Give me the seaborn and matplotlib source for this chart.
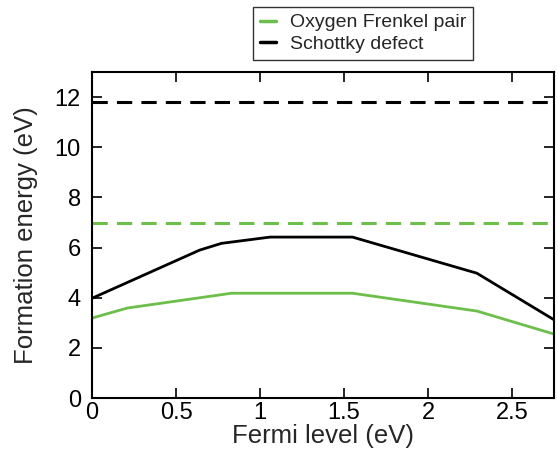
import matplotlib
matplotlib.use("Agg")
import matplotlib.pyplot as plt
import seaborn as sns
import pandas as pd

fermi_frenkel = [0.0, 0.21, 0.83, 1.55, 2.29, 2.75]
energy_frenkel = [3.19, 3.59, 4.18, 4.18, 3.47, 2.55]
fermi_schottky = [0.0, 0.64, 0.77, 1.06, 1.55, 2.29, 2.75]
energy_schottky = [3.98, 5.9, 6.17, 6.42, 6.42, 4.98, 3.12]
frenkel_ref = 6.98
schottky_ref = 11.82

green = "#6cbf4a"
black = "#000000"

sns.set_theme(style="ticks")
plt.rcParams['font.family'] = ['Liberation Sans', 'DejaVu Sans']

fig = plt.figure(figsize=(5.58, 4.51), dpi=100)
ax = fig.add_axes([0.165, 0.1175, 0.828, 0.7225])

df_f = pd.DataFrame({"x": fermi_frenkel, "y": energy_frenkel})
df_s = pd.DataFrame({"x": fermi_schottky, "y": energy_schottky})
sns.lineplot(data=df_f, x="x", y="y", ax=ax, color=green, lw=2)
sns.lineplot(data=df_s, x="x", y="y", ax=ax, color=black, lw=2)
h1 = ax.axhline(frenkel_ref, color=green, lw=2.2, ls=(0, (5, 3)), label="Oxygen Frenkel pair")
h2 = ax.axhline(schottky_ref, color=black, lw=2.2, ls=(0, (5, 3)), label="Schottky defect")

ax.set_xlim(0, 2.75)
ax.set_ylim(0, 13)
ax.set_xticks([0, 0.5, 1, 1.5, 2, 2.5])
ax.set_xticklabels(["0", "0.5", "1", "1.5", "2", "2.5"])
ax.set_yticks([0, 2, 4, 6, 8, 10, 12])
ax.tick_params(direction="in", length=7, width=1.2, labelsize=17, top=True, right=True, colors="black")
ax.tick_params(axis="x", pad=3)
ax.tick_params(axis="y", pad=8)
for s in ax.spines.values():
    s.set_linewidth(1.5)
    s.set_color("black")
ax.set_xlabel("Fermi level (eV)", fontsize=18.5, labelpad=0)
ax.set_ylabel("Formation energy (eV)", fontsize=18.5, labelpad=12)

leg = fig.legend(handles=[h1, h2], loc="upper left", bbox_to_anchor=(253/558, 1 - 7/451),
                 fontsize=14, frameon=True, fancybox=False, edgecolor="black",
                 handlelength=0.85, handletextpad=0.7, borderpad=0.35, labelspacing=0.22,
                 borderaxespad=0)
leg.get_frame().set_linewidth(1.0)
for ln in leg.get_lines():
    ln.set_linestyle("-")
    ln.set_linewidth(2.5)

fig.savefig("out.png", dpi=100)
